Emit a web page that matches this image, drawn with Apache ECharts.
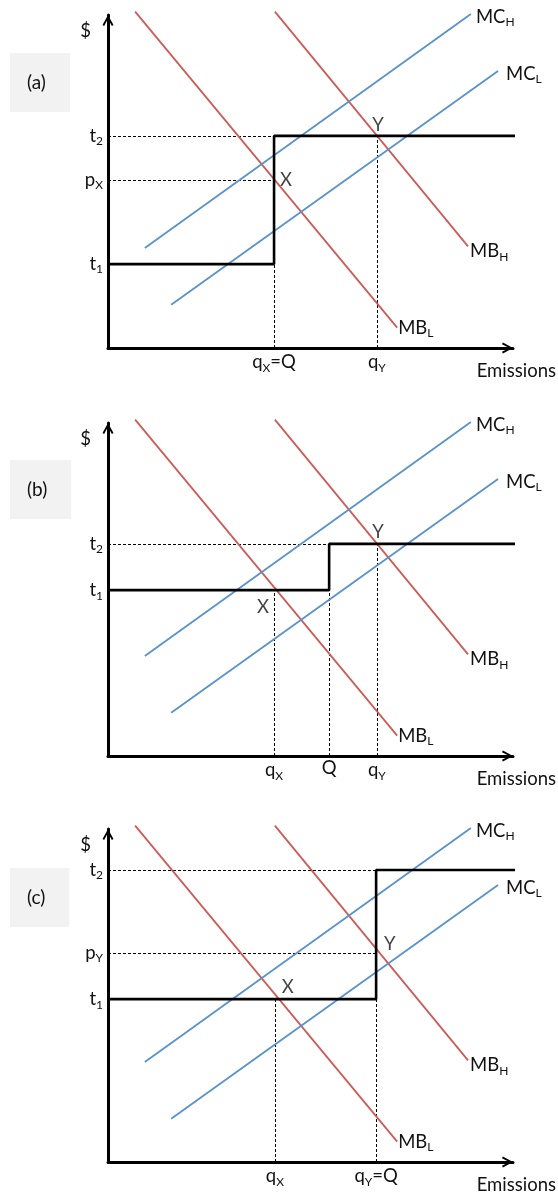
<!DOCTYPE html>
<html>
<head>
<meta charset="utf-8">
<script src="https://cdn.jsdelivr.net/npm/echarts@6/dist/echarts.min.js"></script>
<style>
  html, body { margin: 0; padding: 0; background: #fff; }
  #chart { width: 558px; height: 1196px; }
</style>
</head>
<body>
<div id="chart"></div>
<script>
// Marginal benefit / marginal cost curves, shared by all three panels: [emissions, $]
const mbL = [[6.7, 101], [71.4, 6.1]];
const mbH = [[41.2, 101], [88.9, 30.5]];
const mcH = [[9.1, 30], [89.6, 100.3]];
const mcL = [[15.6, 13], [96.3, 83.2]];

// Policy levels for each panel (a), (b), (c)
const panelNames = ['(a)', '(b)', '(c)'];
const t1 = [25.2, 49.8, 48.9];
const t2 = [63.7, 63.7, 87.7];
const pX = 50.5;          // price at X in (a)
const pY = 62.8;          // price at Y in (c)
const qX = [41, 41, 41.2];
const qY = [66.4, 66.4, 66.2];
const Q = [41, 54.6, 66.2];
const stepEnd = 102.2;

const RED = '#cd5b57';
const BLUE = '#5a92cc';
const INK = '#111';
const FONT = 'Lato';
const FS = 18.5;

const rich = {
  m: { fontSize: FS, fontFamily: FONT, color: INK },
  s: { fontSize: 12, fontFamily: FONT, color: INK, padding: [11, 0, 0, 0] }
};
const sub = (main, s, tail) => '{m|' + main + '}{s|' + s + '}' + (tail ? '{m|' + tail + '}' : '');

const arrow = 'path://M0,11 L6,0 L12,11 L10.2,12 L6,4 L1.8,12 Z';
const axisLine = {
  show: true,
  lineStyle: { color: '#000', width: 3 },
  symbol: ['none', arrow],
  symbolSize: [12, 11],
  symbolOffset: [0, -5.5]
};

function labelFn(list) {
  return function (v) {
    for (const it of list) if (Math.abs(it[0] - v) < 1e-6) return it[1];
    return '';
  };
}

const gridTops = [15, 423, 829];
const boxTops = [53, 460, 868];

const option = {
  animation: false,
  backgroundColor: '#fff',
  textStyle: { fontFamily: FONT },
  title: [], grid: [], xAxis: [], yAxis: [], series: []
};

panelNames.forEach((name, i) => {
  option.title.push({
    text: name, left: 10, top: boxTops[i],
    backgroundColor: '#f2f2f2', padding: [20, 24, 20, 17],
    textStyle: { fontSize: 19, fontWeight: 'normal', fontFamily: FONT, color: INK }
  });
  option.grid.push({ left: 108, top: gridTops[i], width: 405, height: 333 });

  // tick labels on each axis
  let yLabels, xLabels;
  if (i === 0) {
    yLabels = [[t1[0], sub('t', '1')], [pX, sub('p', 'X')], [t2[0], sub('t', '2')]];
    xLabels = [[qX[0], sub('q', 'X', '=Q')], [qY[0], sub('q', 'Y')]];
  } else if (i === 1) {
    yLabels = [[t1[1], sub('t', '1')], [t2[1], sub('t', '2')]];
    xLabels = [[qX[1], sub('q', 'X')], [Q[1], '{m|Q}'], [qY[1], sub('q', 'Y')]];
  } else {
    yLabels = [[t1[2], sub('t', '1')], [pY, sub('p', 'Y')], [t2[2], sub('t', '2')]];
    xLabels = [[qX[2], sub('q', 'X')], [qY[2], sub('q', 'Y', '=Q')]];
  }

  option.xAxis.push({
    gridIndex: i, type: 'value', min: 0, max: 100,
    axisLine, axisTick: { show: false }, splitLine: { show: false },
    axisLabel: { customValues: xLabels.map(d => d[0]), formatter: labelFn(xLabels), margin: 3, rich },
    name: 'Emissions', nameLocation: 'end', nameGap: 43,
    nameTextStyle: { align: 'right', verticalAlign: 'top', padding: [14, 0, 0, 0], fontSize: FS, color: INK, fontFamily: FONT }
  });
  option.yAxis.push({
    gridIndex: i, type: 'value', min: 0, max: 100,
    axisLine, axisTick: { show: false }, splitLine: { show: false },
    axisLabel: { customValues: yLabels.map(d => d[0]), formatter: labelFn(yLabels), margin: 5, rich },
    name: '$', nameLocation: 'end', nameGap: -16,
    nameTextStyle: { align: 'right', verticalAlign: 'middle', padding: [0, 17, 0, 0], fontSize: FS, color: INK, fontFamily: FONT }
  });

  // MB / MC curves
  const curves = [
    [mbL, RED, sub('MB', 'L'), 1, [0, 0]],
    [mbH, RED, sub('MB', 'H'), 2, [0, 5]],
    [mcH, BLUE, sub('MC', 'H'), 5, [0, 3]],
    [mcL, BLUE, sub('MC', 'L'), 8, [0, 3]]
  ];
  curves.forEach(([data, color, text, dist, off]) => {
    option.series.push({
      type: 'line', xAxisIndex: i, yAxisIndex: i, data, symbol: 'none', clip: false, silent: true,
      lineStyle: { color, width: 1.8 },
      endLabel: { show: true, formatter: () => text, rich, distance: dist, offset: off }
    });
  });

  // dashed guide lines
  let guides;
  if (i === 0) {
    guides = [
      [[0, t2[0]], [Q[0], t2[0]]],
      [[0, pX], [qX[0], pX]],
      [[qX[0], 0], [qX[0], t1[0]]],
      [[qY[0], 0], [qY[0], t2[0]]]
    ];
  } else if (i === 1) {
    guides = [
      [[0, t2[1]], [Q[1], t2[1]]],
      [[qX[1], 0], [qX[1], t1[1]]],
      [[Q[1], 0], [Q[1], t1[1]]],
      [[qY[1], 0], [qY[1], t2[1]]]
    ];
  } else {
    guides = [
      [[0, t2[2]], [Q[2], t2[2]]],
      [[0, pY], [qY[2], pY]],
      [[qX[2], 0], [qX[2], t1[2]]],
      [[qY[2], 0], [qY[2], t1[2]]]
    ];
  }
  option.series.push({
    type: 'lines', coordinateSystem: 'cartesian2d', xAxisIndex: i, yAxisIndex: i, clip: false, silent: true,
    data: guides.map(c => ({ coords: c })),
    lineStyle: { color: '#000', width: 1, type: [3, 2], opacity: 1 }
  });

  // tax schedule step
  option.series.push({
    type: 'line', xAxisIndex: i, yAxisIndex: i, symbol: 'none', clip: false, silent: true,
    data: [[0, t1[i]], [Q[i], t1[i]], [Q[i], t2[i]], [stepEnd, t2[i]]],
    lineStyle: { color: '#000', width: 2.6 }
  });

  // equilibrium point labels X and Y
  const pts = i === 0
    ? [[[qX[0], pX], 'X', [6, 0], 'left'], [[qY[0], t2[0]], 'Y', [1, -11], 'center']]
    : i === 1
      ? [[[qX[1], t1[1]], 'X', [-5, 17], 'right'], [[qY[1], t2[1]], 'Y', [1, -12], 'center']]
      : [[[qX[2], t1[2]], 'X', [7, -12], 'left'], [[qY[2], pY], 'Y', [8, -9], 'left']];
  option.series.push({
    type: 'scatter', xAxisIndex: i, yAxisIndex: i, symbolSize: 0, silent: true, clip: false,
    data: pts.map(([v, t, pos, al]) => ({
      value: v,
      label: { show: true, formatter: t, position: pos, align: al, verticalAlign: 'middle', fontSize: FS, color: INK, fontFamily: FONT }
    }))
  });
});

const chart = echarts.init(document.getElementById('chart'), null, { renderer: 'canvas' });
chart.setOption(option);
</script>
</body>
</html>
